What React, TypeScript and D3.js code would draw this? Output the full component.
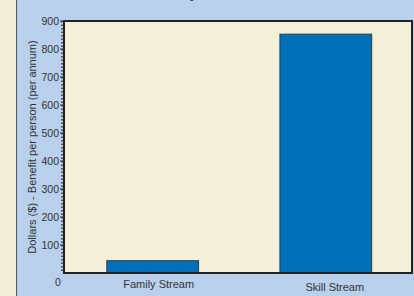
import * as d3 from "d3";
import { useEffect, useRef } from "react";

const categories = ["Family Stream", "Skill Stream"];
const benefit = [44, 853];
const yTicks = [100, 200, 300, 400, 500, 600, 700, 800, 900];

const App = () => {
  const ref = useRef<SVGSVGElement>(null);

  useEffect(() => {
    const svg = d3.select(ref.current);
    svg.selectAll("*").remove();
    const width = 414;
    const height = 296;
    const margin = { top: 21, right: 2, bottom: 23, left: 64 };

    const x = d3
      .scaleBand()
      .domain(categories)
      .range([margin.left, width - margin.right])
      .paddingInner(0.47)
      .paddingOuter(0.24)
      .align(0.515);

    const y = d3
      .scaleLinear()
      .domain([0, 900])
      .range([height - margin.bottom, margin.top]);

    svg.attr("viewBox", [0, 0, width, height]);

    // backgrounds
    svg.append("rect").attr("width", width).attr("height", height).attr("fill", "#f3eed8");
    svg.append("rect").attr("x", 17).attr("width", width - 17).attr("height", height).attr("fill", "#b8d0ec");
    svg.append("line").attr("x1", 16.5).attr("x2", 16.5).attr("y1", 0).attr("y2", height)
      .attr("stroke", "#555").attr("stroke-width", 1);

    // title (cut off at top, only descenders show)
    svg.append("text")
      .attr("x", 111).attr("y", -2.5)
      .attr("font-family", "Liberation Sans, Arial, sans-serif")
      .attr("font-size", 13).attr("font-weight", "bold")
      .attr("fill", "#1f3f8f")
      .text("Net benefit by visa, 2004");

    // plot area
    svg.append("rect")
      .attr("x", margin.left).attr("y", y(900))
      .attr("width", width - margin.right - margin.left)
      .attr("height", y(0) - y(900))
      .attr("fill", "#f4efd9");

    // Bars
    svg.append("g")
      .selectAll("rect")
      .data(categories)
      .join("rect")
      .attr("x", (d) => x(d)!)
      .attr("y", (d, i) => y(benefit[i]))
      .attr("width", x.bandwidth())
      .attr("height", (d, i) => y(0) - y(benefit[i]))
      .attr("fill", "#0071b9")
      .attr("stroke", "#2f3a44")
      .attr("stroke-width", 1);

    // frame
    svg.append("path")
      .attr("d", `M${margin.left},${y(900)}H${width - margin.right}V${y(0)}H${margin.left}Z`)
      .attr("stroke", "#222").attr("stroke-width", 2).attr("fill", "none");
    svg.append("line")
      .attr("x1", margin.left - 2).attr("x2", margin.left - 2)
      .attr("y1", y(900)).attr("y2", y(0))
      .attr("stroke", "#333").attr("stroke-width", 1.5).attr("stroke-dasharray", "1.5,2");

    // Y Axis
    const yAxis = svg.append("g")
      .attr("font-family", "Liberation Sans, Arial, sans-serif")
      .attr("font-size", 10.5).attr("fill", "#333");
    yAxis.selectAll("line")
      .data(yTicks)
      .join("line")
      .attr("x1", margin.left - 4).attr("x2", margin.left)
      .attr("y1", (d) => y(d)).attr("y2", (d) => y(d))
      .attr("stroke", "#333");
    yAxis.selectAll("text")
      .data(yTicks)
      .join("text")
      .attr("x", margin.left - 5)
      .attr("y", (d) => y(d))
      .attr("dy", "0.35em")
      .attr("text-anchor", "end")
      .text((d) => d);
    yAxis.append("text")
      .attr("x", 58).attr("y", y(0) + 13)
      .attr("text-anchor", "middle")
      .text("0");

    yAxis.append("text")
      .attr("transform", `translate(36,${(y(0) + y(900)) / 2}) rotate(-90)`)
      .attr("text-anchor", "middle")
      .attr("font-size", 11)
      .text("Dollars ($) - Benefit per person (per annum)");

    // X labels
    svg.append("g")
      .attr("font-family", "Liberation Sans, Arial, sans-serif")
      .attr("font-size", 11).attr("fill", "#333")
      .selectAll("text")
      .data(categories)
      .join("text")
      .attr("x", (d, i) => x(d)! + x.bandwidth() / 2 + (i === 0 ? 6 : 9))
      .attr("y", (d, i) => y(0) + (i === 0 ? 15 : 18))
      .attr("text-anchor", "middle")
      .text((d) => d);
  }, []);

  return (
    <div style={{ position: "fixed", left: 0, top: 0 }}>
      <svg ref={ref} width={414} height={296} style={{ display: "block" }} />
    </div>
  );
};

export default App;
